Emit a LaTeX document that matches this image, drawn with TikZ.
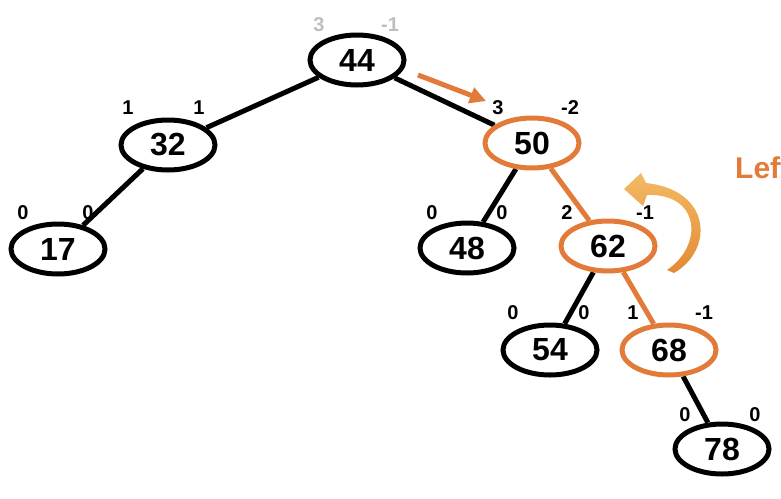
\documentclass[tikz,border=0pt]{standalone}
\usepackage{fontspec}
\setmainfont{Liberation Sans}
\usetikzlibrary{shapes.geometric,arrows.meta,backgrounds}
\definecolor{rot}{RGB}{226,122,58}
\definecolor{rotlight}{RGB}{244,186,100}
\definecolor{rotdark}{RGB}{226,138,52}
\definecolor{faint}{RGB}{190,190,190}
\tikzset{
  tnode/.style={ellipse, draw=black, fill=white, line width=5pt, minimum width=94pt, minimum height=50pt, inner sep=0pt, font=\fontsize{32}{32}\selectfont\bfseries},
  hot/.style={draw=rot},
  edge/.style={line width=5pt, draw=black},
  hotedge/.style={line width=5pt, draw=rot},
  bal/.style={font=\fontsize{20}{20}\selectfont\bfseries, inner sep=0pt},
  faintbal/.style={bal, text=faint},
}
\begin{document}
\begin{tikzpicture}[x=1pt,y=-1pt]
\useasboundingbox (0,0) rectangle (781,498);
\clip (0,0) rectangle (781,498);
% nodes
\node[tnode] (n44) at (357,60) {44};
\node[tnode] (n32) at (168,145) {32};
\node[tnode] (n17) at (58,249) {17};
\node[tnode,hot] (n50) at (532,143) {50};
\node[tnode] (n48) at (467,248) {48};
\node[tnode,hot] (n62) at (608,246) {62};
\node[tnode] (n54) at (550,350) {54};
\node[tnode,hot] (n68) at (669,350) {68};
\node[tnode] (n78) at (722,449) {78};
% edges
\begin{scope}[on background layer]
\draw[edge] (n44) -- (n32);
\draw[edge] (n44) -- (n50);
\draw[edge] (n32) -- (n17);
\draw[edge] (n50) -- (n48);
\draw[hotedge] (n50) -- (n62);
\draw[edge] (n62) -- (n54);
\draw[hotedge] (n62) -- (n68);
\draw[edge] (n68) -- (n78);
\end{scope}
% balance labels
\node[faintbal] (b44l) at (319,25) {3};
\node[faintbal] (b44r) at (390,25) {-1};
\node[bal] (b32l) at (128,108) {1};
\node[bal] (b32r) at (199,108) {1};
\node[bal] (b17l) at (23,213) {0};
\node[bal] (b17r) at (88,213) {0};
\node[bal] (b50l) at (498,108) {3};
\node[bal] (b50r) at (570,108) {-2};
\node[bal] (b48l) at (432,213) {0};
\node[bal] (b48r) at (502,213) {0};
\node[bal] (b62l) at (567,213) {2};
\node[bal] (b62r) at (645,213) {-1};
\node[bal] (b54l) at (513,313) {0};
\node[bal] (b54r) at (584,313) {0};
\node[bal] (b68l) at (633,313) {1};
\node[bal] (b68r) at (704,313) {-1};
\node[bal] (b78l) at (685,415) {0};
\node[bal] (b78r) at (755,415) {0};
% straight arrow
\coordinate (a1) at (418,75);
\coordinate (a2) at (486,101);
\draw[rot, line width=5pt, -{Triangle[length=16pt,width=16pt]}] (a1) -- (a2);
% curved arrow
\shade[top color=rotlight, bottom color=rotdark]
  (674,273) .. controls (714,250) and (712,190) .. (646,183)
  -- (641,173) -- (624,189) -- (643,206) -- (647,195)
  .. controls (700,193) and (704,245) .. (667,270) -- cycle;
% title
\node[anchor=base west, inner sep=0pt, text=rot, font=\fontsize{30}{30}\selectfont\bfseries] (title) at (735,178) {Left};
\end{tikzpicture}
\end{document}
